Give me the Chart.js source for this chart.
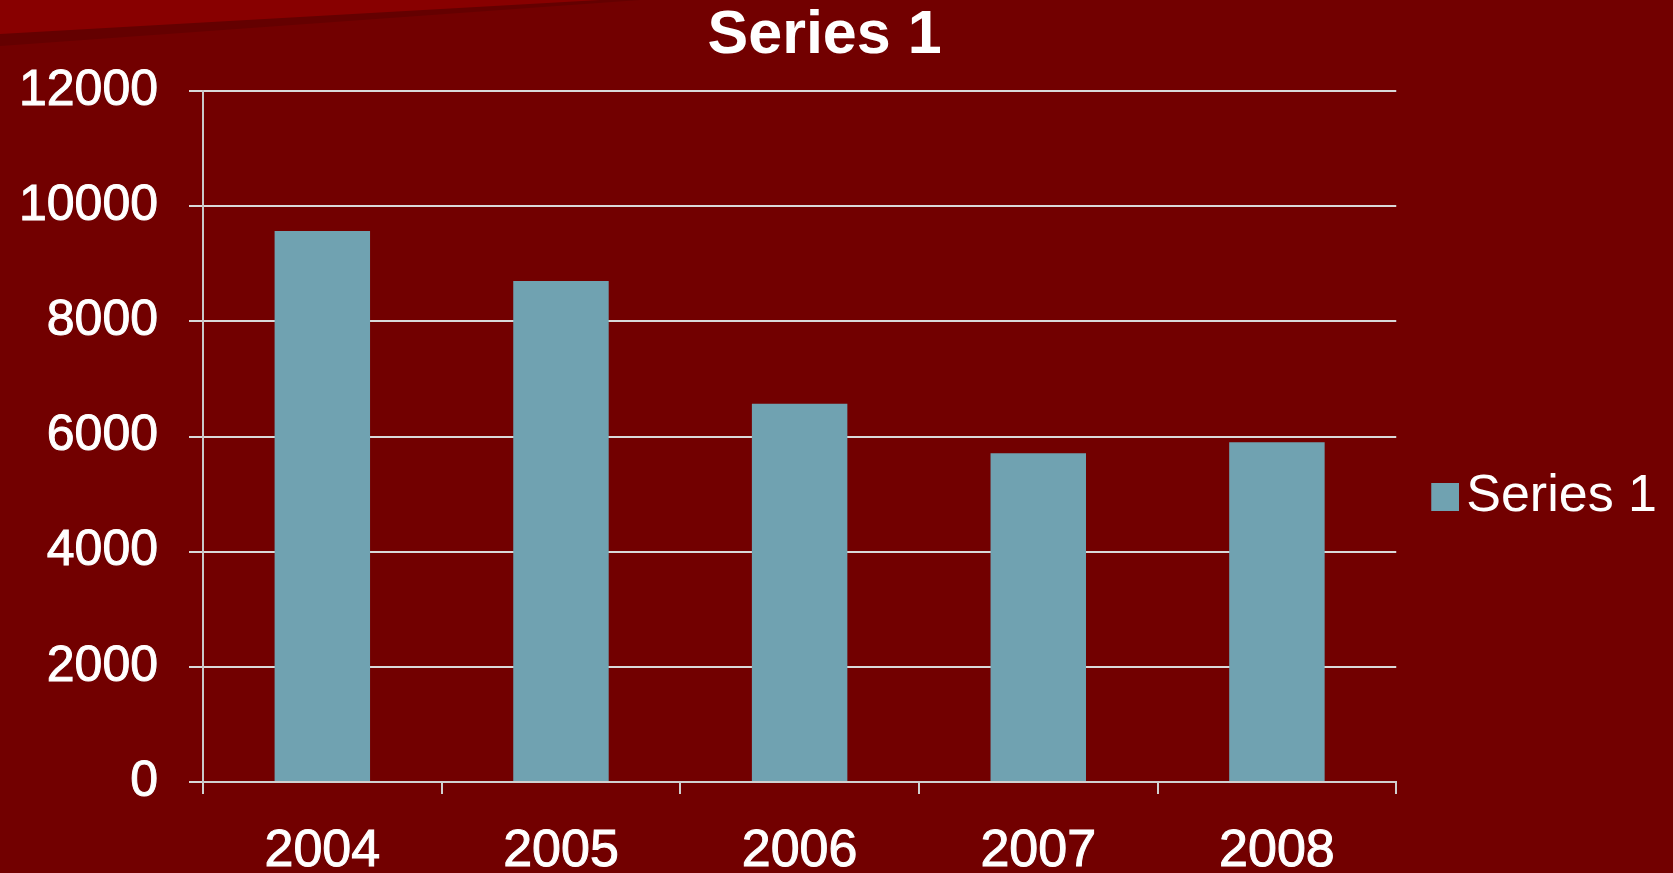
<!DOCTYPE html>
<html lang="en">
<head>
  <meta charset="UTF-8" />
  <title>Series 1</title>
  <script src="https://cdn.jsdelivr.net/npm/chart.js"></script>
  <style>
    html, body {
      margin: 0;
      padding: 0;
      background: #720000;
      overflow: hidden;
    }
    #wrap {
      width: 1673px;
      height: 873px;
    }
  </style>
</head>
<body>
  <div id="wrap"><canvas id="chart"></canvas></div>

  <script>
    const years = ["2004", "2005", "2006", "2007", "2008"];
    const series1 = [9570, 8700, 6570, 5710, 5900];
    const yTicks = [0, 2000, 4000, 6000, 8000, 10000, 12000];

    const FONT = "'Liberation Sans', Arial, sans-serif";
    const BAR = '#70a2b1';

    // legend marker: square sitting at the right of a wider transparent image,
    // so it ends up closer to the label text
    const marker = document.createElement('canvas');
    marker.width = 66;
    marker.height = 28;
    const mctx = marker.getContext('2d');
    mctx.fillStyle = BAR;
    mctx.fillRect(38, 0, 28, 28);

    // lighter red wedge at the top left, like the slide background
    const slideBg = {
      id: 'slideBg',
      beforeDraw(chart) {
        const c = chart.ctx;
        c.save();
        c.fillStyle = '#720000';
        c.fillRect(0, 0, chart.width, chart.height);
        c.fillStyle = '#640000';
        c.beginPath();
        c.moveTo(0, 0); c.lineTo(640, 0); c.lineTo(0, 46); c.closePath();
        c.fill();
        c.fillStyle = '#880000';
        c.beginPath();
        c.moveTo(0, 0); c.lineTo(600, 0); c.lineTo(0, 34); c.closePath();
        c.fill();
        c.restore();
      }
    };

    new Chart(document.getElementById('chart'), {
      type: 'bar',
      data: {
        labels: years,
        datasets: [{
          label: 'Series 1',
          data: series1,
          backgroundColor: BAR,
          borderWidth: 0,
          categoryPercentage: 1,
          barPercentage: 0.4
        }]
      },
      plugins: [slideBg],
      options: {
        responsive: true,
        maintainAspectRatio: false,
        animation: false,
        layout: { padding: { left: 16, right: 6 } },
        plugins: {
          title: {
            display: true,
            // trailing spaces nudge the centred title a little to the left
            text: 'Series 1\u00a0\u00a0',
            color: '#ffffff',
            font: { family: FONT, size: 61, weight: 'bold', lineHeight: 1.1 },
            padding: { top: 3, bottom: 21 }
          },
          legend: {
            position: 'right',
            fullSize: false,
            title: { display: true, text: ' ', padding: { top: 120, bottom: 0 }, font: { size: 1 } },
            labels: {
              color: '#ffffff',
              usePointStyle: true,
              pointStyle: marker,
              boxWidth: 28,
              boxHeight: 28,
              padding: 16,
              font: { family: FONT, size: 52 }
            }
          },
          tooltip: { enabled: false }
        },
        scales: {
          x: {
            offset: true,
            afterFit(scale) { scale.height = 91; },
            grid: {
              offset: true,
              drawOnChartArea: false,
              drawTicks: true,
              tickLength: 12,
              color: '#d0d0d0',
              lineWidth: 2
            },
            border: { color: '#d0d0d0', width: 2 },
            ticks: {
              color: '#ffffff',
              padding: 32,
              textStrokeColor: '#ffffff',
              textStrokeWidth: 1,
              font: { family: FONT, size: 52, lineHeight: 1 }
            }
          },
          y: {
            min: 0,
            max: 12000,
            afterBuildTicks(axis) { axis.ticks = yTicks.map(v => ({ value: v })); },
            afterFit(scale) { scale.width = 187; },
            grid: {
              color: '#d9d9d9',
              lineWidth: 2,
              tickLength: 14
            },
            border: { color: '#c8c8c8', width: 2 },
            ticks: {
              color: '#ffffff',
              padding: 31,
              textStrokeColor: '#ffffff',
              textStrokeWidth: 1,
              callback: v => String(v),
              font: { family: FONT, size: 50 }
            }
          }
        }
      }
    });
  </script>
</body>
</html>
